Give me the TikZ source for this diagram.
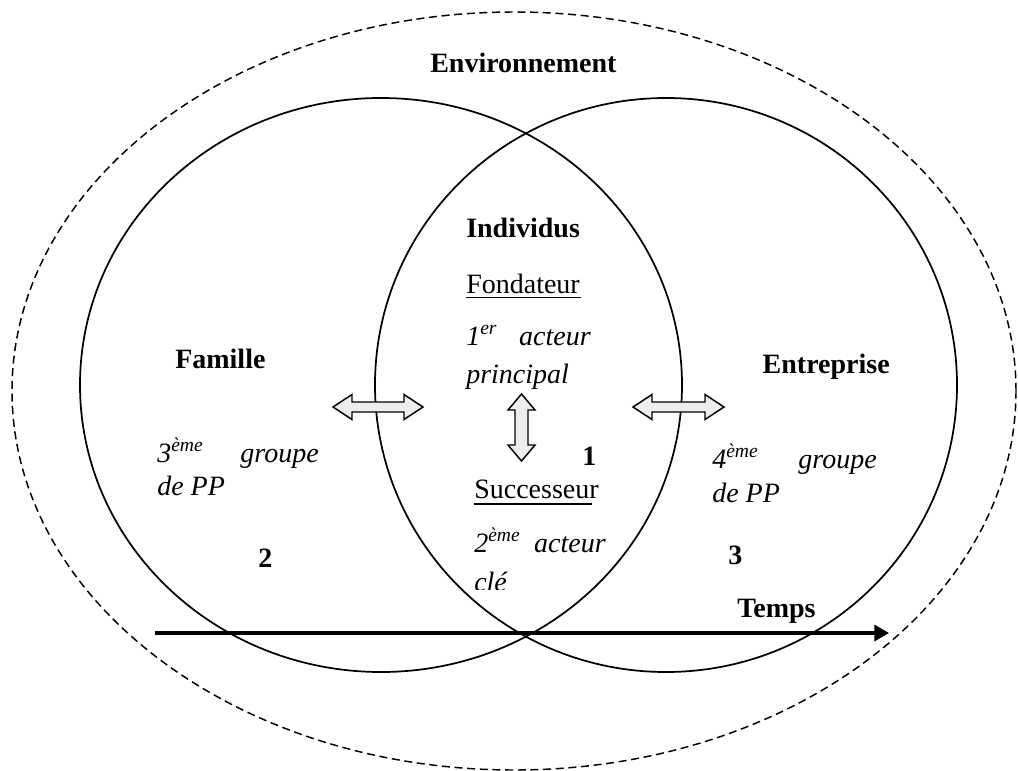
\documentclass[tikz,border=0pt]{standalone}
\usepackage{fontspec}
\setmainfont{Liberation Serif}
\usetikzlibrary{shapes.geometric,arrows.meta}
\begin{document}
\begin{tikzpicture}[x=0.75pt,y=-0.75pt,
  ring/.style={draw, ellipse, line width=1.3pt, inner sep=0pt},
  envring/.style={draw, ellipse, line width=1.1pt, dash pattern=on 6pt off 3.5pt, inner sep=0pt},
  lbl/.style={anchor=base west, inner sep=0pt, font=\fontsize{21}{25}\selectfont},
  lble/.style={anchor=base east, inner sep=0pt, font=\fontsize{21}{25}\selectfont},
  blockarrow/.style={draw, fill=black!7, line width=1.1pt, line join=miter},
  uline/.style={line width=1.1pt}]
\useasboundingbox (0,0) rectangle (1018,771);
% environment and the two spheres
\node[envring, minimum width=753pt, minimum height=568.5pt] (env) at (514,391) {};
\node[ring, minimum width=451.5pt, minimum height=430.5pt] (famc) at (381,385) {};
\node[ring, minimum width=436.5pt, minimum height=430.5pt] (entc) at (666,385) {};
% block arrows
\draw[blockarrow] (333,407) -- (352,394.5) -- (352,402) -- (404,402) -- (404,394.5) -- (423,407)
  -- (404,419.5) -- (404,412) -- (352,412) -- (352,419.5) -- cycle;
\draw[blockarrow] (633,407) -- (652,394.5) -- (652,402) -- (705,402) -- (705,394.5) -- (724,407)
  -- (705,419.5) -- (705,412) -- (652,412) -- (652,419.5) -- cycle;
\draw[blockarrow] (521.5,394) -- (535,410) -- (528,410) -- (528,445) -- (535,445) -- (521.5,461)
  -- (508,445) -- (515,445) -- (515,410) -- (508,410) -- cycle;
% time arrow
\coordinate (tstart) at (155,633);
\coordinate (tend) at (889,633);
\draw[line width=2.5pt, -{Triangle[length=11pt,width=12pt]}] (tstart) -- (tend);
% texts
\node[lbl] (envt) at (430,72) {\bfseries Environnement};
\node[lbl] (indiv) at (466,237) {\bfseries Individus};
\node[lbl] (fond) at (466,293) {Fondateur};
\draw[uline] (466,297.5) -- (581,297.5);
\node[lbl] (prem) at (466,345) {\itshape 1\textsuperscript{er}};
\node[lble] (act1) at (591,345) {\itshape acteur};
\node[lbl] (princ) at (466,383) {\itshape principal};
\node[lbl] (fam) at (175,368) {\bfseries Famille};
\node[lble] (entr) at (890,373) {\bfseries Entreprise};
\node[lbl] (troi) at (157,462) {\itshape 3\textsuperscript{ème}};
\node[lble] (grp3) at (319,462) {\itshape groupe};
\node[lbl] (pp3) at (157,495) {\itshape de PP};
\node[lbl] (deux) at (258,567) {\bfseries 2};
\node[lbl] (quat) at (712,468) {\itshape 4\textsuperscript{ème}};
\node[lble] (grp4) at (877,468) {\itshape groupe};
\node[lbl] (pp4) at (712,502) {\itshape de PP};
\node[lbl] (trois) at (728,564) {\bfseries 3};
\node[lbl] (temps) at (737,617) {\bfseries Temps};
\node[lbl] (un) at (582,465) {\bfseries 1};
\node[lbl] (succ) at (474,498) {Successeur};
\draw[uline] (474,504) -- (592,504);
\node[lbl] (sec) at (474,552) {\itshape 2\textsuperscript{ème}};
\node[lble] (act2) at (606,552) {\itshape acteur};
\begin{scope}
\clip (460,560) rectangle (620,589);
\node[lbl] (cle) at (474,591) {\itshape clé};
\end{scope}
\end{tikzpicture}
\end{document}
